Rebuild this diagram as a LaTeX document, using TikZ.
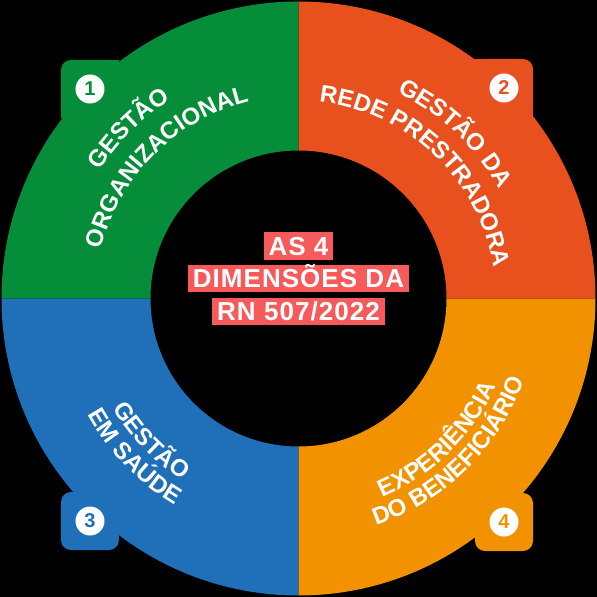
\documentclass[tikz,border=0pt]{standalone}
\usepackage{fontspec}
\setmainfont{Liberation Sans}
\newfontfamily\titlefont[LetterSpace=4]{Liberation Sans}
\usetikzlibrary{
	decorations.text,
	positioning,
}
\definecolor{gestorg}{RGB}{6,141,58}
\definecolor{rede}{RGB}{232,81,30}
\definecolor{saude}{RGB}{31,112,184}
\definecolor{exper}{RGB}{242,146,0}
\definecolor{hlred}{RGB}{246,90,90}
\newcommand\ringtxt{\bfseries\fontsize{24}{24}\selectfont}
\tikzstyle{dimtab} = [rounded corners=10pt, minimum size=58pt, inner sep=0pt]
\tikzstyle{numdot} = [circle, fill=white, minimum size=29pt, inner sep=0pt, font=\bfseries\fontsize{20}{20}\selectfont]
\tikzstyle{dimtitle} = [fill=hlred, text=white, font=\titlefont\bfseries\fontsize{26}{26}\selectfont, inner xsep=5pt, inner ysep=4.3pt, text height=18.6pt, text depth=0pt]
\tikzstyle{ringtext} = [decorate, decoration={text along path, text align=center, text color=white}]

\begin{document}
\begin{tikzpicture}[x=1pt, y=1pt]
	\fill[black] (-298.5,-298.5) rectangle (298.5,298.5);
	\useasboundingbox (-298.5,-298.5) rectangle (298.5,298.5);

	% corner tabs
	\node[dimtab, fill=gestorg] (tab1) at (-208.5,209.5) {};
	\node[dimtab, fill=rede] (tab2) at (205.5,210.5) {};
	\node[dimtab, fill=saude] (tab3) at (-208.5,-222.5) {};
	\node[dimtab, fill=exper] (tab4) at (205.5,-223.5) {};
	% sharp corners where the tabs meet the ring
	\fill[gestorg] (tab1.north east) rectangle +(-10,-10);
	\fill[gestorg] (tab1.south west) rectangle +(10,10);
	\fill[rede] (tab2.north west) rectangle +(10,-10);
	\fill[rede] (tab2.south east) rectangle +(-10,10);

	% ring
	\foreach \col/\a in {gestorg/90, rede/0, saude/180, exper/270} {
			\fill[\col] (\a:148pt) -- (\a:297pt) arc[start angle=\a, end angle=\a+90, radius=297pt]
			-- ({\a+90}:148pt) arc[start angle=\a+90, end angle=\a, radius=148pt] -- cycle;
		}

	% numbers
	\node[numdot, text=gestorg] (num1) at (tab1) {1};
	\node[numdot, text=rede] (num2) at (tab2) {2};
	\node[numdot, text=saude] (num3) at (tab3) {3};
	\node[numdot, text=exper] (num4) at (tab4) {4};

	% texts on the ring
	\path[ringtext, decoration={text={|\ringtxt|GESTÃO}}] (180:236.4pt) arc[start angle=180, end angle=90, radius=236.4pt];
	\path[ringtext, decoration={text={|\ringtxt|ORGANIZACIONAL}}] (180:203.4pt) arc[start angle=180, end angle=90, radius=203.4pt];
	\path[ringtext, decoration={text={|\ringtxt|GESTÃO DA}}] (91.5:228.4pt) arc[start angle=91.5, end angle=1.5, radius=228.4pt];
	\path[ringtext, decoration={text={|\ringtxt|REDE PRESTRADORA}}] (91.5:197.4pt) arc[start angle=91.5, end angle=1.5, radius=197.4pt];
	\path[ringtext, decoration={text={|\ringtxt|GESTÃO}}] (179:215.6pt) arc[start angle=179, end angle=269, radius=215.6pt];
	\path[ringtext, decoration={text={|\ringtxt|EM SAÚDE}}] (179:240.6pt) arc[start angle=179, end angle=269, radius=240.6pt];
	\path[ringtext, decoration={text={|\ringtxt|EXPERIÊNCIA}}] (269.5:216pt) arc[start angle=269.5, end angle=359.5, radius=216pt];
	\path[ringtext, decoration={text={|\ringtxt|DO BENEFICIÁRIO}}] (269.5:240pt) arc[start angle=269.5, end angle=359.5, radius=240pt];

	% title
	\node[dimtitle] (title2) at (0,19.8) {DIMENSÕES DA};
	\node[dimtitle, above=5pt of title2] (title1) {AS 4};
	\node[dimtitle, below=5pt of title2] (title3) {RN 507/2022};

\end{tikzpicture}
\end{document}
